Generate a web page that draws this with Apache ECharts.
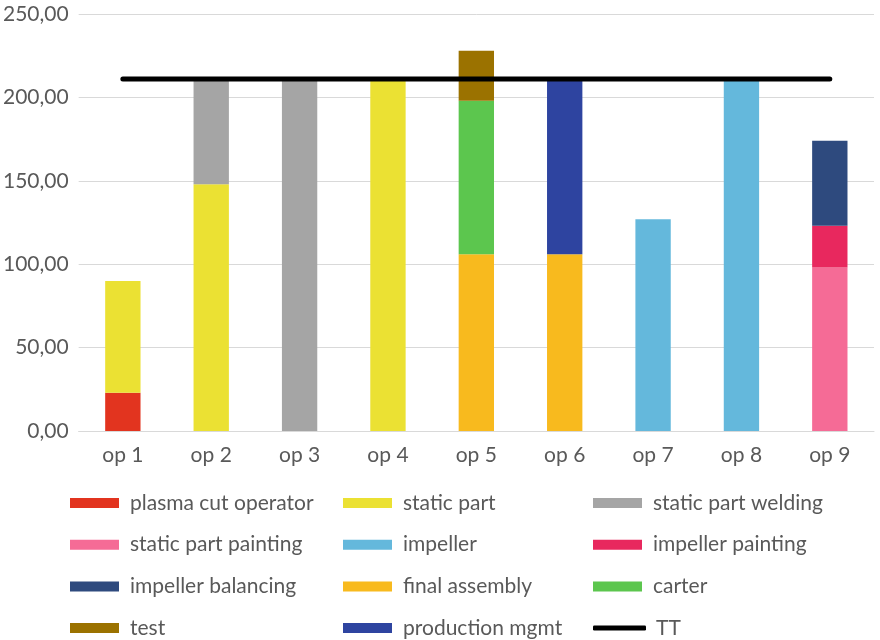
<!DOCTYPE html>
<html>
<head>
<meta charset="utf-8">
<script src="https://cdn.jsdelivr.net/npm/echarts@6/dist/echarts.min.js"></script>
<style>
  html, body { margin: 0; padding: 0; background: #ffffff; }
  #chart { width: 880px; height: 640px; }
</style>
</head>
<body>
<div id="chart"></div>
<script>
// Workstations
const categories = ['op 1', 'op 2', 'op 3', 'op 4', 'op 5', 'op 6', 'op 7', 'op 8', 'op 9'];

// Workload per activity at each workstation (stacked, bottom to top)
const plasmaCutOperator   = [23, null, null, null, null, null, null, null, null];
const staticPart          = [67, 148, null, 211, null, null, null, null, null];
const staticPartWelding   = [null, 63, 211, null, null, null, null, null, null];
const staticPartPainting  = [null, null, null, null, null, null, null, null, 98];
const impeller            = [null, null, null, null, null, null, 127, 211, null];
const impellerPainting    = [null, null, null, null, null, null, null, null, 25];
const impellerBalancing   = [null, null, null, null, null, null, null, null, 51];
const finalAssembly       = [null, null, null, null, 106, 106, null, null, null];
const carter              = [null, null, null, null, 92, null, null, null, null];
const test                = [null, null, null, null, 30, null, null, null, null];
const productionMgmt      = [null, null, null, null, null, 105, null, null, null];

// Takt time
const taktTime = [211, 211, 211, 211, 211, 211, 211, 211, 211];

// Value axis ticks
const yMin = 0, yMax = 250, yStep = 50;

const FONT = 'Lato, "Noto Sans", sans-serif';
const TEXT_COLOR = '#595959';

const barSeries = [
  { name: 'plasma cut operator', data: plasmaCutOperator, color: '#E2341F' },
  { name: 'static part', data: staticPart, color: '#EBE133' },
  { name: 'static part welding', data: staticPartWelding, color: '#A5A5A5' },
  { name: 'static part painting', data: staticPartPainting, color: '#F56B96' },
  { name: 'impeller', data: impeller, color: '#64B8DC' },
  { name: 'impeller painting', data: impellerPainting, color: '#E8285E' },
  { name: 'impeller balancing', data: impellerBalancing, color: '#2E4A7E' },
  { name: 'final assembly', data: finalAssembly, color: '#F8BA1E' },
  { name: 'carter', data: carter, color: '#5CC64E' },
  { name: 'test', data: test, color: '#9B7200' },
  { name: 'production mgmt', data: productionMgmt, color: '#2E44A0' }
].map(s => ({
  type: 'bar',
  name: s.name,
  stack: 'load',
  data: s.data,
  barWidth: '40%',
  itemStyle: { color: s.color },
  emphasis: { disabled: true }
}));

const ttSeries = {
  type: 'line',
  name: 'TT',
  data: taktTime,
  symbol: 'none',
  z: 10,
  lineStyle: { color: '#000000', width: 5, cap: 'round' },
  itemStyle: { color: '#000000' }
};

function legendColumn(left, names) {
  return {
    orient: 'vertical',
    left: left,
    top: 492,
    padding: 0,
    itemWidth: 49,
    itemHeight: 10,
    itemGap: 19.7,
    icon: 'rect',
    selectedMode: false,
    textStyle: {
      fontFamily: FONT,
      fontSize: 21,
      lineHeight: 22,
      color: TEXT_COLOR,
      padding: [0, 0, 0, 6]
    },
    data: names
  };
}

const chart = echarts.init(document.getElementById('chart'), null, { renderer: 'canvas' });

chart.setOption({
  animation: false,
  backgroundColor: '#ffffff',
  grid: { left: 78, right: 6, top: 14, bottom: 209, containLabel: false },
  xAxis: {
    type: 'category',
    data: categories,
    axisTick: { show: false },
    axisLine: { lineStyle: { color: '#D9D9D9', width: 1 } },
    axisLabel: { fontFamily: FONT, fontSize: 21, color: TEXT_COLOR, margin: 14 }
  },
  yAxis: {
    type: 'value',
    min: yMin,
    max: yMax,
    interval: yStep,
    axisLine: { show: false },
    axisTick: { show: false },
    splitLine: { lineStyle: { color: '#D9D9D9', width: 1 } },
    axisLabel: {
      fontFamily: FONT,
      fontSize: 21,
      color: TEXT_COLOR,
      margin: 10,
      formatter: v => v.toFixed(2).replace('.', ',')
    }
  },
  legend: [
    legendColumn(70, ['plasma cut operator', 'static part painting', 'impeller balancing', 'test']),
    legendColumn(343, ['static part', 'impeller', 'final assembly', 'production mgmt']),
    Object.assign(legendColumn(593, ['static part welding', 'impeller painting', 'carter']), {}),
    Object.assign(legendColumn(593, [{ name: 'TT', icon: 'roundRect' }]), {
      top: 492 + 3 * 41.7,
      itemWidth: 53,
      itemHeight: 5,
      textStyle: { fontFamily: FONT, fontSize: 21, lineHeight: 22, color: TEXT_COLOR, padding: [0, 0, 0, 5] }
    })
  ],
  series: barSeries.concat([ttSeries])
});
</script>
</body>
</html>
